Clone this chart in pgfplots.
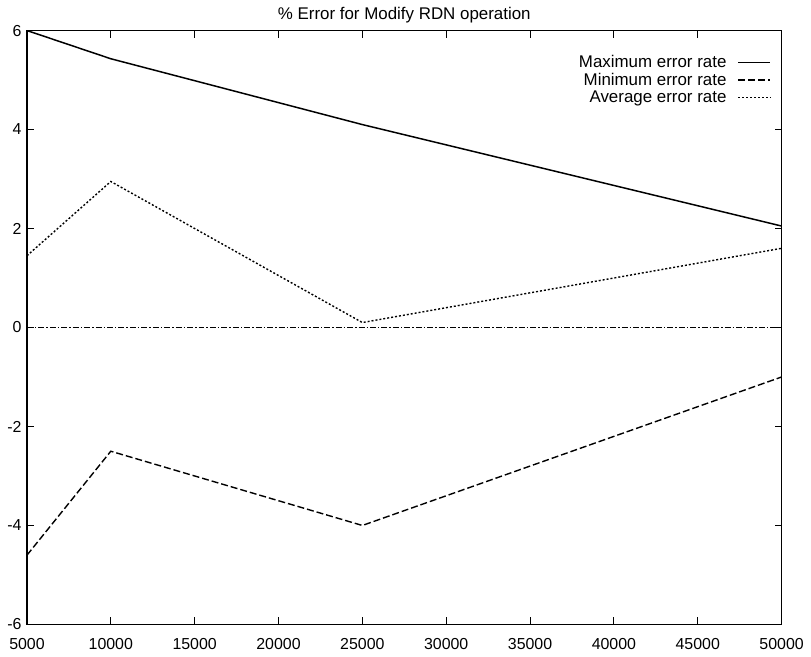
\documentclass[border=4bp]{standalone}
\usepackage{pgfplots}
\pgfplotsset{compat=1.18}
\usepackage{fontspec}
\setmainfont{Liberation Sans}
\begin{document}
\begin{tikzpicture}
\begin{axis}[
  scale only axis,
  width=756bp, height=595bp,
  xmin=5000, xmax=50000, ymin=-6, ymax=6,
  xtick={5000,10000,...,50000},
  ytick={-6,-4,...,6},
  scaled ticks=false,
  /pgf/number format/assume math mode=true,
  /pgf/number format/fixed,
  /pgf/number format/1000 sep={},
  tick align=inside,
  major tick length=7bp,
  tick style={black, line width=1pt},
  axis line style={line width=1.4pt},
  every tick label/.append style={font=\fontsize{16}{18}\selectfont},
  title={\% Error for Modify RDN operation},
  title style={font=\fontsize{17}{19}\selectfont, yshift=-2bp},
  legend style={draw=none, fill=none, at={(0.99,0.965)}, anchor=north east,
    font=\fontsize{17}{19}\selectfont, row sep=0bp},
  legend cell align=right,
  legend plot pos=right,
  every axis plot/.append style={legend image code/.code={\path (0bp,0bp); \draw[#1] (9bp,0bp) -- (41bp,0bp);}},
  xticklabel style={yshift=-10bp},
  yticklabel style={xshift=-2bp},
]
\addplot[black, line width=1.5pt] coordinates {(5000,6) (10000,5.43) (25000,4.1) (50000,2.05)};
\addlegendentry{Maximum error rate}
\addplot[black, line width=1.4pt, dash pattern=on 7pt off 3pt] coordinates {(5000,-4.6) (10000,-2.5) (25000,-4.0) (50000,-1.0)};
\addlegendentry{Minimum error rate}
\addplot[black, line width=1.4pt, dash pattern=on 2pt off 2pt] coordinates {(5000,1.45) (10000,2.95) (25000,0.1) (50000,1.6)};
\addlegendentry{Average error rate}
\addplot[black, line width=0.9pt, dash pattern=on 6pt off 2pt on 1.5pt off 2pt, forget plot] coordinates {(5000,0) (50000,0)};
\end{axis}
\end{tikzpicture}
\end{document}
